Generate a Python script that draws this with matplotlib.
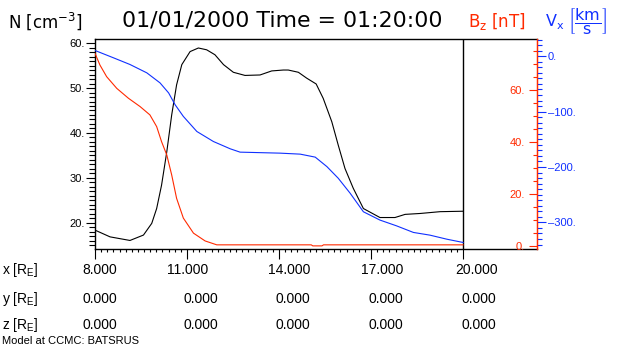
import matplotlib
matplotlib.use("Agg")
import matplotlib.pyplot as plt
import numpy as np
from matplotlib.ticker import FixedLocator, FuncFormatter, MultipleLocator

plt.rcParams.update({
    "font.family": ["Liberation Sans", "DejaVu Sans"],
    "mathtext.default": "regular",
})

RED = "#ff2a00"
BLUE = "#1030ff"
HEAD_FONT = ["DejaVu Sans"]

# number density N [cm^-3] (left axis)
N_X = [8.0, 8.49, 9.14, 9.58, 9.85, 10.01, 10.17, 10.34, 10.50, 10.66, 10.83,
       11.10, 11.37, 11.64, 11.91, 12.19, 12.51, 12.89, 13.38, 13.76, 14.14,
       14.30, 14.63, 14.90, 15.21, 15.44, 15.72, 15.93, 16.15, 16.42, 16.75,
       17.29, 17.78, 18.11, 18.60, 19.25, 20.0]
N_VAL = [18.4, 16.9, 16.1, 17.3, 19.9, 23.2, 28.4, 35.8, 44.0, 50.7, 55.2,
         58.1, 58.9, 58.5, 57.4, 55.2, 53.5, 52.8, 52.9, 53.8, 54.0,
         54.0, 53.5, 52.2, 50.9, 47.7, 42.5, 37.3, 32.1, 27.7, 23.2,
         21.2, 21.2, 21.9, 22.1, 22.5, 22.6]

# Bz [nT] (red axis)
BZ_X = [8.0, 8.16, 8.38, 8.71, 9.09, 9.47, 9.79, 10.01, 10.17, 10.34, 10.50,
        10.66, 10.88, 11.21, 11.59, 11.97, 15.05, 15.1, 15.4, 15.45, 20.0]
BZ_VAL = [74.1, 69.6, 65.1, 60.6, 56.8, 53.6, 50.4, 45.9, 40.1, 35.0, 27.3,
          18.3, 10.7, 4.9, 1.9, 0.4, 0.4, 0.0, 0.0, 0.4, 0.4]

# Vx [km/s] (blue axis)
VX_X = [8.0, 8.6, 9.14, 9.69, 10.12, 10.40, 10.61, 10.88, 11.32, 11.86, 12.41,
        12.73, 14.03, 14.69, 15.18, 15.56, 15.93, 16.32, 16.75, 17.29, 17.83,
        18.38, 18.92, 19.47, 20.0]
VX_VAL = [10.3, -2.9, -15.0, -30.1, -48.2, -66.3, -87.5, -108.7, -135.9, -154.0,
          -167.2, -173.2, -175.0, -176.8, -182.2, -199.3, -220.3, -247.5,
          -280.8, -295.8, -306.2, -318.1, -323.0, -330.3, -336.2]

X_TICKS = [8, 11, 14, 17, 20]
X_ROW = ["8.000", "11.000", "14.000", "17.000", "20.000"]
Y_ROW = ["0.000", "0.000", "0.000", "0.000", "0.000"]
Z_ROW = ["0.000", "0.000", "0.000", "0.000", "0.000"]

fig = plt.figure(figsize=(6.3, 3.5), dpi=100)
ax = fig.add_axes([95 / 630, 1 - 249 / 350, 442 / 630, 210 / 350])

ax.plot(N_X, N_VAL, color="black", lw=0.8)
ax.axvline(20, color="black", lw=1.0)
ax.set_xlim(8, 22.41)
ax.set_ylim(14.2, 60.9)

ax.xaxis.set_major_locator(FixedLocator(X_TICKS))
ax.xaxis.set_minor_locator(FixedLocator(np.arange(8, 20.01, 0.2)))
ax.xaxis.set_major_formatter(FuncFormatter(lambda v, p: ""))
ax.tick_params(axis="x", which="major", direction="out", length=7, width=0.8)
ax.tick_params(axis="x", which="minor", direction="out", length=2.5, width=0.8)

ax.yaxis.set_major_locator(MultipleLocator(10))
ax.yaxis.set_minor_locator(MultipleLocator(1))
ax.yaxis.set_major_formatter(FuncFormatter(lambda v, p: f"{v:.0f}."))
ax.tick_params(axis="y", which="major", direction="out", length=6.5, width=0.8,
               labelsize=8, pad=1)
ax.tick_params(axis="y", which="minor", direction="out", length=4, width=0.8)
ax.spines["right"].set_visible(False)
for s in ("left", "top", "bottom"):
    ax.spines[s].set_linewidth(1.0)

# Bz axis (red), ticks pointing inward, labels inside
ax2 = ax.twinx()
ax2.plot(BZ_X, BZ_VAL, color=RED, lw=0.8)
ax2.set_ylim(-1.2, 79.6)
ax2.yaxis.set_major_locator(MultipleLocator(20))
ax2.yaxis.set_minor_locator(MultipleLocator(5))
ax2.yaxis.set_major_formatter(FuncFormatter(lambda v, p: f"{v:.0f}."))
ax2.tick_params(axis="y", which="major", direction="in", length=6, width=0.8,
                colors=RED, labelsize=8, pad=-9)
ax2.tick_params(axis="y", which="minor", direction="in", length=3, width=0.8,
                colors=RED)
for lbl in ax2.get_yticklabels():
    lbl.set_horizontalalignment("right")
ax2.spines["right"].set_color(RED)
ax2.spines["right"].set_linewidth(1.0)
for s in ("left", "top", "bottom"):
    ax2.spines[s].set_visible(False)

# Vx axis (blue), ticks outward
ax3 = ax.twinx()
ax3.plot(VX_X, VX_VAL, color=BLUE, lw=0.8)
ax3.set_ylim(-348, 31)
ax3.yaxis.set_major_locator(MultipleLocator(100))
ax3.yaxis.set_minor_locator(MultipleLocator(10))
ax3.yaxis.set_major_formatter(
    FuncFormatter(lambda v, p: f"{v:.0f}.".replace("-", "\u2013")))
ax3.tick_params(axis="y", which="major", direction="out", length=6.5, width=0.8,
                colors=BLUE, labelsize=8, pad=1.5)
ax3.tick_params(axis="y", which="minor", direction="out", length=3.5, width=0.8,
                colors=BLUE)
ax3.spines["right"].set_color(RED)
for s in ("left", "top", "bottom"):
    ax3.spines[s].set_visible(False)

# header texts
fig.text(8 / 630, 1 - 21 / 350, r"N [cm$^{-3}$]", fontsize=12, va="center",
         family=HEAD_FONT)
fig.text(282 / 630, 1 - 21 / 350, "01/01/2000 Time = 01:20:00", fontsize=15.8,
         ha="center", va="center", family=HEAD_FONT)
fig.text(468 / 630, 1 - 21 / 350, r"B$_z$ [nT]", fontsize=12, color=RED,
         va="center", family=HEAD_FONT)
fig.text(545 / 630, 1 - 21 / 350, r"V$_x$ $\left[\dfrac{km}{s}\right]$",
         fontsize=11.5, color=BLUE, va="center", family=HEAD_FONT)

# position table below the axis (right edges offset from each tick)
row_y = [270, 299, 325]
x_shift = [0.72, 0.68, 1.01, 1.04, 1.14]
yz_shift = [0.72, 1.01, 1.01, 1.04, 1.07]
rows = [("x", X_ROW, x_shift), ("y", Y_ROW, yz_shift), ("z", Z_ROW, yz_shift)]
trans = ax.get_xaxis_transform()
for (name, vals, shifts), py in zip(rows, row_y):
    fig.text(2 / 630, 1 - py / 350, name + r" [R$_E$]", fontsize=10,
             va="center")
    ty = -(py - 249) / 210
    for xt, s, sh in zip(X_TICKS, vals, shifts):
        ax.text(xt + sh, ty, s, transform=trans, fontsize=10, ha="right",
                va="center", clip_on=False)

fig.text(2 / 630, 1 - 341 / 350, "Model at CCMC: BATSRUS", fontsize=8,
         va="center")

fig.savefig("out.png", dpi=100)
